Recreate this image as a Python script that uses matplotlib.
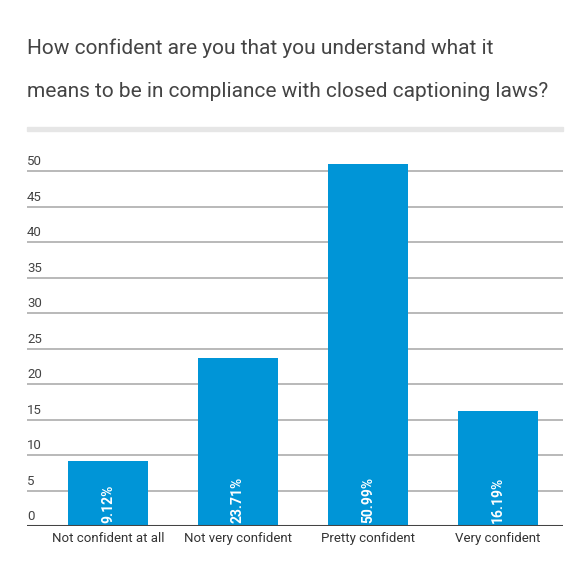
import matplotlib
matplotlib.use('Agg')
import matplotlib.pyplot as plt
from matplotlib.patches import Rectangle

categories = ["Not confident at all", "Not very confident", "Pretty confident", "Very confident"]
percents = [9.12, 23.71, 50.99, 16.19]
yticks = [0, 5, 10, 15, 20, 25, 30, 35, 40, 45, 50]
title = "How confident are you that you understand what it\nmeans to be in compliance with closed captioning laws?"

W, H = 588, 564
plt.rcParams['font.family'] = ['Roboto', 'DejaVu Sans']

fig = plt.figure(figsize=(W / 100, H / 100), dpi=100)
fig.patch.set_facecolor('white')

# axes box in pixels: x 27..563, baseline at y=526, top at value 55
px_per_unit = 7.1
ytop = 55
left, right, base = 27, 563, 526
ax = fig.add_axes([left / W, (H - base) / H, (right - left) / W, ytop * px_per_unit / H])

xs = list(range(len(categories)))
ax.bar(xs, percents, width=0.615, color='#0095d7', zorder=3)
ax.set_xlim(3.5 - (right - left) / 130, 3.5)
ax.set_ylim(0, ytop)

for y in yticks:
    if y == 0:
        ax.axhline(0, color='#444444', lw=2.2, zorder=4)
    else:
        ax.axhline(y, color='#a6a6a6', lw=1.1, zorder=1)
    ax.annotate(str(y), xy=(0, y), xycoords=('axes fraction', 'data'),
                xytext=(0, 2), textcoords='offset points',
                ha='left', va='bottom', fontsize=9.5, color='#444444')

for x, p in zip(xs, percents):
    ax.annotate(f"{p:.2f}%", xy=(x, 0), xytext=(0, 2), textcoords='offset points',
                rotation=90, ha='center', va='bottom', fontsize=10,
                fontweight='bold', color='white', zorder=5)

ax.set_xticks(xs)
ax.set_xticklabels(categories, fontsize=9.5, color='#333333')
ax.tick_params(axis='x', length=0, pad=4)
ax.set_yticks([])
for s in ax.spines.values():
    s.set_visible(False)

fig.text(27 / W, 1 - 38 / H, title, ha='left', va='top', fontsize=15,
         color='#444444', linespacing=2.65)
fig.patches.append(Rectangle((27 / W, 1 - 131 / H), (563 - 27) / W, 4.5 / H,
                             transform=fig.transFigure, color='#e6e6e6'))

fig.savefig('out.png', dpi=100)
